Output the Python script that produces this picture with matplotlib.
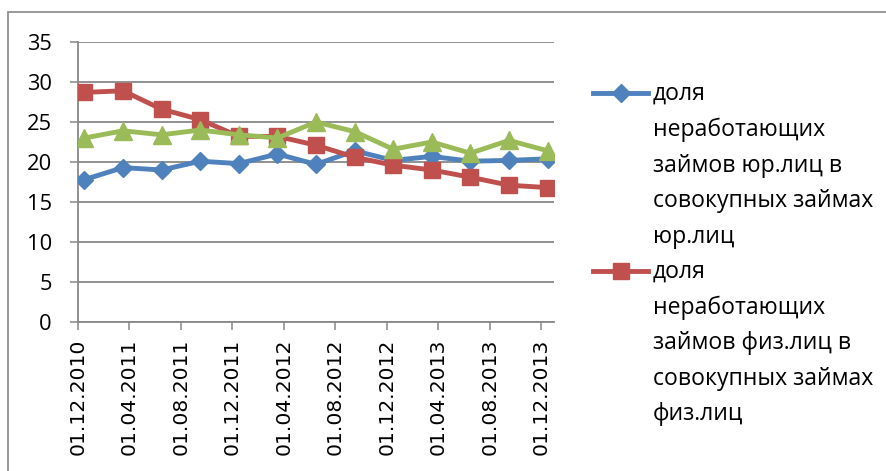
import matplotlib
matplotlib.use('Agg')
import matplotlib.pyplot as plt
from matplotlib.lines import Line2D
from matplotlib.patches import Rectangle
from matplotlib.font_manager import FontProperties

# ---------------- data ----------------
dates = ['01.12.2010', '01.03.2011', '01.06.2011', '01.09.2011', '01.12.2011',
         '01.03.2012', '01.06.2012', '01.09.2012', '01.12.2012', '01.03.2013',
         '01.06.2013', '01.09.2013', '01.12.2013']
corp = [17.8, 19.3, 19.0, 20.1, 19.8, 21.0, 19.7, 21.4, 20.2, 20.7, 20.1, 20.2, 20.4]
retail = [28.7, 28.9, 26.6, 25.3, 23.2, 23.2, 22.1, 20.6, 19.6, 19.0, 18.1, 17.1, 16.8]
total = [23.0, 23.9, 23.4, 24.0, 23.4, 23.0, 25.0, 23.8, 21.6, 22.5, 21.1, 22.7, 21.4]

tick_labels = ['01.12.2010', '01.04.2011', '01.08.2011', '01.12.2011', '01.04.2012',
               '01.08.2012', '01.12.2012', '01.04.2013', '01.08.2013', '01.12.2013']
yticks = [0, 5, 10, 15, 20, 25, 30, 35]
legend_labels = ['доля\nнеработающих\nзаймов юр.лиц в\nсовокупных займах\nюр.лиц',
                 'доля\nнеработающих\nзаймов физ.лиц в\nсовокупных займах\nфиз.лиц']

# ---------------- style ----------------
W, H = 887, 471
DPI = 100
C_BLUE, C_RED, C_GREEN = '#4F81BD', '#C0504D', '#9BBB59'
GRID = '#888888'
FONT_Y = ['Open Sans', 'DejaVu Sans']
FONT_X = ['DejaVu Sans']
FONT_L = ['Open Sans', 'DejaVu Sans']


def month_index(s):
    d, m, y = s.split('.')
    return (int(y) - 2010) * 12 + int(m) - 12


fig = plt.figure(figsize=(W / DPI, H / DPI), dpi=DPI)
renderer = fig.canvas.get_renderer()


def fit_size(text, family, target_px, base=12.0):
    t = fig.text(0, 0, text, fontsize=base, family=family)
    w = t.get_window_extent(renderer).width
    t.remove()
    return base * target_px / w


ys = fit_size('35', FONT_Y, 25)
xs = fit_size('01.12.2010', FONT_X, 116)
ls = fit_size('совокупных займах', FONT_L, 219)

# plot area in pixels: left 78, right 554, top 42, bottom 322
ax = fig.add_axes([78 / W, 1 - 322 / H, (554 - 78) / W, (322 - 42) / H])

x = [month_index(d) + 0.5 for d in dates]
ax.plot(x, corp, color=C_BLUE, lw=3.5, marker='D', ms=9.5, mec=C_BLUE, zorder=3)
ax.plot(x, retail, color=C_RED, lw=3.5, marker='s', ms=12, mec=C_RED, zorder=4)
ax.plot(x, total, color=C_GREEN, lw=3.5, marker='^', ms=13, mec=C_GREEN, zorder=5)

ax.set_xlim(0, 37)
ax.set_ylim(0, 35)
ax.set_yticks(yticks)
ax.set_yticklabels([str(v) for v in yticks], family=FONT_Y, fontsize=ys)
ax.set_xticks([month_index(s) for s in tick_labels])
ax.set_xticklabels(tick_labels, rotation=90, family=FONT_X, fontsize=xs)
ax.tick_params(axis='y', length=5.8, width=1.1, color=GRID, pad=13)
ax.tick_params(axis='x', length=5.8, width=1.1, color=GRID, pad=6)
ax.grid(axis='y', color=GRID, lw=1.3)
ax.set_axisbelow(True)
for s in ['top', 'right']:
    ax.spines[s].set_visible(False)
for s in ['left', 'bottom']:
    ax.spines[s].set_color(GRID)
    ax.spines[s].set_linewidth(1.3)

# outer chart border
fig.add_artist(Rectangle((8 / W, -0.1), 1.2, 1 - 12 / H + 0.1, transform=fig.transFigure,
                         fill=False, edgecolor=GRID, lw=1.2))

# ---------------- legend (manual, first-line aligned) ----------------
prop = FontProperties(family=FONT_L, size=ls)
lw_, lh, ld = renderer.get_text_width_height_descent('lp', prop, ismath=False)
line_step = 35.5
spacing = (line_step - ld) / (lh - ld)
entries = [(C_BLUE, 'D', 9.5, legend_labels[0]), (C_RED, 's', 12, legend_labels[1])]
first_baseline = 100
for i, (c, mk, ms, lab) in enumerate(entries):
    yb = first_baseline + i * 5 * line_step
    yc = yb - 7
    ytop = yb - (lh - ld)
    fig.add_artist(Line2D([593 / W, 648 / W], [1 - yc / H] * 2, transform=fig.transFigure,
                          color=c, lw=3.5))
    fig.add_artist(Line2D([620.5 / W], [1 - yc / H], transform=fig.transFigure,
                          color=c, marker=mk, ms=ms, mec=c))
    fig.text(653 / W, 1 - ytop / H, lab, fontproperties=prop, va='top', ha='left',
             linespacing=spacing, color='black')

fig.savefig('out.png', dpi=DPI)
